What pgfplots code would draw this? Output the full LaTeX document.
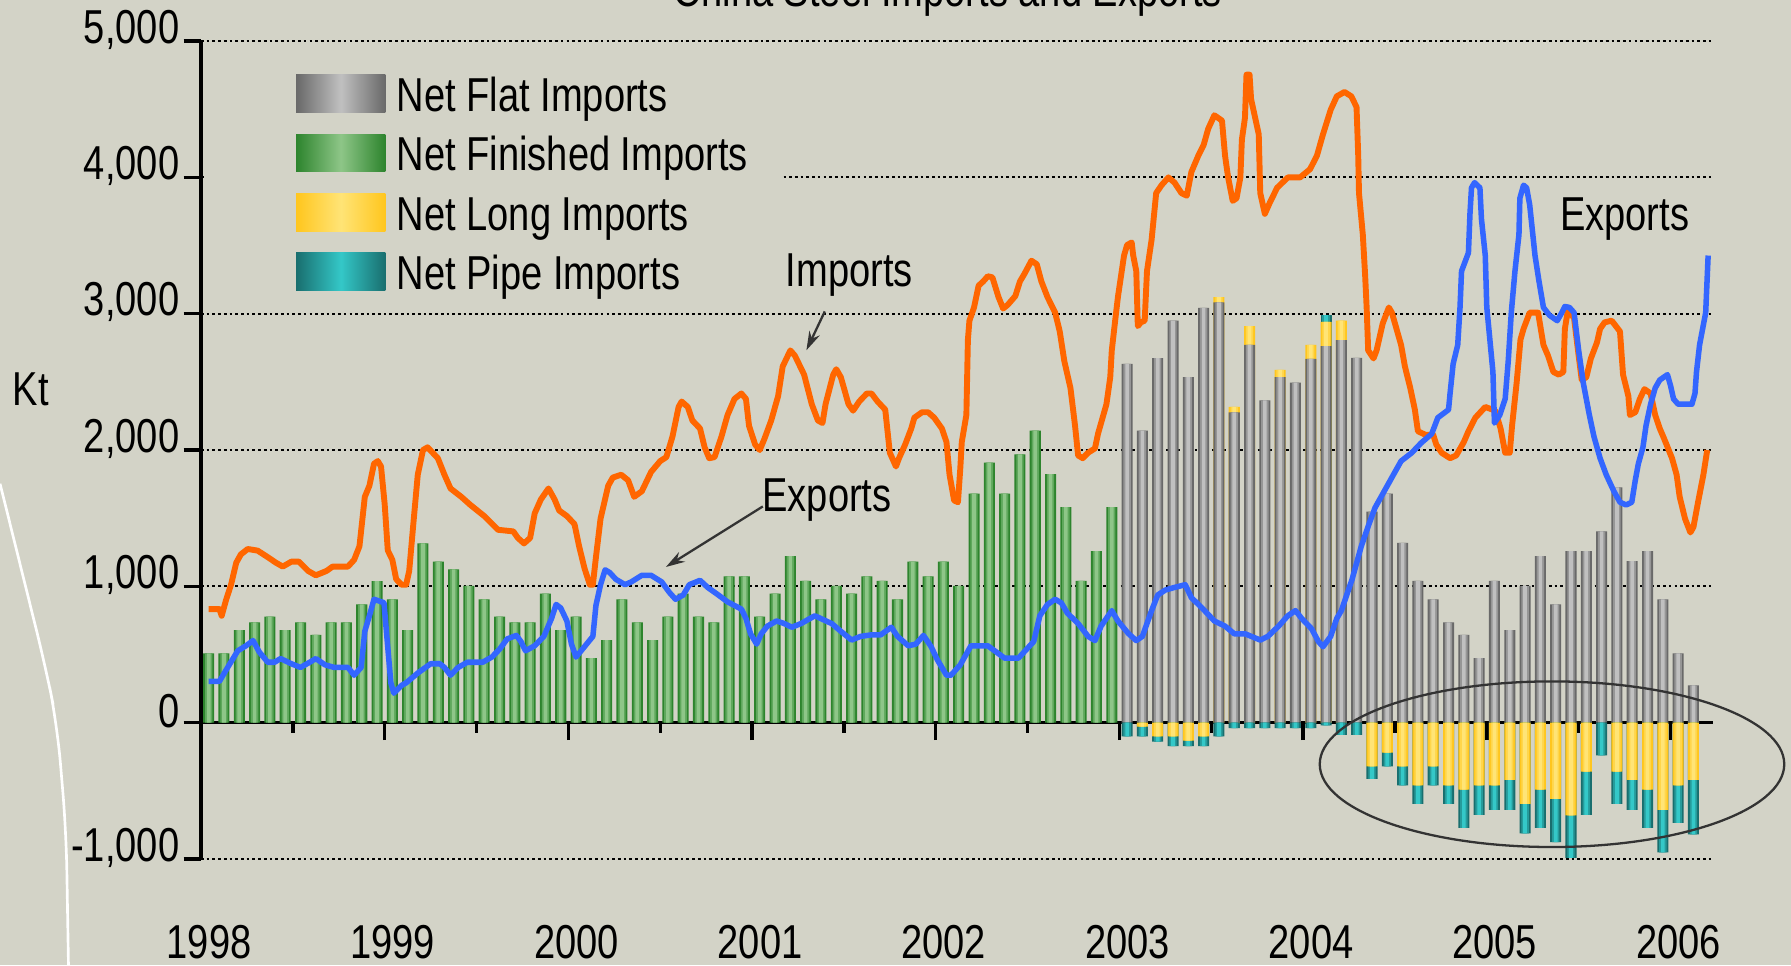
\documentclass[border=0pt]{standalone}
\usepackage{fontspec}
\setmainfont{Liberation Sans}[FakeStretch=0.8]
\usepackage{pgfplots}
\usepackage{pgfplotstable}
\pgfplotsset{compat=1.18}
\usetikzlibrary{arrows.meta}
\definecolor{bgc}{RGB}{211,211,199}
\definecolor{orangec}{RGB}{255,102,0}
\definecolor{bluec}{RGB}{51,102,255}
\definecolor{grayd}{RGB}{105,105,105}
\definecolor{graym}{RGB}{150,150,150}
\definecolor{grayl}{RGB}{192,192,192}
\definecolor{greend}{RGB}{45,132,45}
\definecolor{greenm}{RGB}{95,168,92}
\definecolor{greenl}{RGB}{142,198,136}
\definecolor{yeld}{RGB}{255,198,30}
\definecolor{yelm}{RGB}{255,214,75}
\definecolor{yell}{RGB}{255,228,118}
\definecolor{teald}{RGB}{25,110,110}
\definecolor{tealm}{RGB}{38,155,155}
\definecolor{teall}{RGB}{52,200,200}
\newcommand{\fs}{\fontsize{12.5}{14}\selectfont}
\pgfplotsset{
  barbase/.style={ybar, bar shift=0pt, draw=none, forget plot},
}
\newcommand{\layered}[4]{%
  \addplot[barbase, fill=#2, bar width=0.72] table {#1};
  \addplot[barbase, fill=#3, bar width=0.48] table {#1};
  \addplot[barbase, fill=#4, bar width=0.24] table {#1};
}
% Net Finished (positive), 1998-2002
\pgfplotstableread{
x y
0 508
1 508
2 678
3 735
4 777
5 678
6 735
7 644
8 735
9 735
10 867
11 1038
12 905
13 678
14 1315
15 1181
16 1125
17 1004
18 905
19 777
20 735
21 735
22 947
23 678
24 777
25 473
26 606
27 905
28 735
29 606
30 777
31 947
32 777
33 735
34 1073
35 1073
36 777
37 947
38 1222
39 1040
40 905
41 1004
42 947
43 1073
44 1040
45 905
46 1181
47 1073
48 1181
49 1004
50 1681
51 1907
52 1681
53 1968
54 2142
55 1823
56 1581
57 1040
58 1258
59 1581
}\finished
% Net Flat (positive), 2003-2006
\pgfplotstableread{
x y
60 2632
61 2142
62 2675
63 2949
64 2534
65 3043
66 3084
67 2277
68 2771
69 2364
70 2534
71 2494
72 2668
73 2763
74 2806
75 2676
76 1548
77 1681
78 1319
79 1040
80 905
81 735
82 644
83 473
84 1040
85 678
86 1004
87 1222
88 867
89 1258
90 1258
91 1403
92 1726
93 1185
94 1258
95 905
96 508
97 273
}\flat
% flat + positive long (top of the yellow caps)
\pgfplotstableread{
x y
66 3122
67 2316
68 2909
70 2589
72 2771
73 2941
74 2949
}\longpos
% flat + long + positive pipe
\pgfplotstableread{
x y
73 2988
}\pipepos
% negative long + pipe (bottom of the teal parts)
\pgfplotstableread{
x y
60 -100
61 -100
62 -140
63 -172
64 -172
65 -172
66 -100
67 -40
68 -40
69 -40
70 -40
71 -40
72 -40
73 -20
74 -90
75 -90
76 -412
77 -320
78 -460
79 -596
80 -460
81 -596
82 -772
83 -676
84 -640
85 -640
86 -812
87 -772
88 -876
89 -992
90 -676
91 -240
92 -596
93 -640
94 -772
95 -952
96 -736
97 -820
}\pipeneg
% negative long
\pgfplotstableread{
x y
61 -30
62 -100
63 -100
64 -132
65 -100
76 -320
77 -220
78 -320
79 -460
80 -320
81 -460
82 -492
83 -460
84 -460
85 -420
86 -596
87 -492
88 -560
89 -680
90 -360
92 -360
93 -420
94 -492
95 -640
96 -460
97 -420
}\longneg
\begin{document}
\begin{tikzpicture}
\fill[bgc] (-52.8pt,-27.9pt) rectangle (417.6pt,225.6pt);
\begin{axis}[
  at={(0pt,0pt)}, anchor=south west,
  scale only axis, width=397.2pt, height=214.8pt,
  xmin=-0.5, xmax=98.3, ymin=-1000, ymax=5000,
  enlargelimits=false, clip=false,
  axis y line=left, axis x line=middle,
  axis line style={-, line width=0.9pt, black},
  hide obscured x ticks=false, hide obscured y ticks=false,
  tick align=outside,
  major tick length=4.6pt, minor tick length=2.6pt,
  tick style={line width=0.9pt, black},
  xtick={-0.5,11.5,23.5,35.5,47.5,59.5,71.5,83.5,95.5},
  xticklabels={1998,1999,2000,2001,2002,2003,2004,2005,2006},
  minor xtick={5.5,17.5,29.5,41.5,53.5,65.5,77.5,89.5},
  ytick={-1000,0,1000,2000,3000,4000,5000},
  ymajorgrids,
  grid style={black, line width=0.5pt, dash pattern=on 0.7pt off 0.8pt},
  /pgf/number format/assume math mode=true,
  /pgf/number format/1000 sep={,},
  tick label style={font=\fs},
  xticklabel style={anchor=north, inner sep=0pt, yshift=-48.4pt, xshift=2.1pt},
  yticklabel style={yshift=3pt, xshift=2.4pt},
  legend style={at={(axis cs:-0.35,4815)}, anchor=north west, fill=bgc, draw=none,
    font=\fs, inner xsep=9pt, inner ysep=2pt, row sep=3.3pt, column sep=3pt,
    nodes={inner sep=0pt, text height=9pt, text depth=2.7pt}},
  legend cell align=left,
  legend image code/.code={\path (-15pt,0pt); \path[draw=none,#1] (0pt,-3.45pt) rectangle (23.4pt,6.45pt);},
]
% positive long / pipe caps above flat, then flat, then finished
\layered{\pipepos}{teald}{tealm}{teall}
\layered{\longpos}{yeld}{yelm}{yell}
\layered{\flat}{grayd}{graym}{grayl}
\layered{\finished}{greend}{greenm}{greenl}
% negative: pipe (total), then long on top
\layered{\pipeneg}{teald}{tealm}{teall}
\layered{\longneg}{yeld}{yelm}{yell}
% imports
\addplot[orangec, line width=1.55pt, no markers, line join=round, forget plot] coordinates {
(0,833) (0.7,833) (0.85,784) (1.13,898) (1.46,1012) (1.8,1173) (2.1,1234) (2.55,1274) (3.2,1262) (3.86,1214)
(4.4,1173) (4.84,1145) (5.4,1181) (5.9,1181) (6.5,1113) (7.0,1081) (7.7,1113) (8.1,1145) (9.1,1145) (9.5,1194)
(9.85,1294) (10.2,1657) (10.5,1738) (10.8,1899) (11.05,1919) (11.26,1879) (11.5,1600) (11.7,1264) (12.0,1194) (12.25,1052)
(12.6,1012) (12.9,1012) (13.1,1113) (13.4,1496) (13.66,1819) (14.0,2000) (14.3,2020) (14.97,1940) (15.4,1819) (15.8,1718)
(16.5,1657) (17.1,1597) (18.0,1516) (18.9,1415) (19.9,1403) (20.2,1355) (20.6,1315) (21.0,1355) (21.3,1536) (21.7,1637)
(22.2,1718) (22.6,1637) (22.9,1556) (23.4,1516) (23.9,1456) (24.2,1294) (24.55,1133) (24.9,1012) (25.1,1012) (25.3,1214)
(25.6,1496) (26.1,1738) (26.4,1798) (26.95,1819) (27.4,1778) (27.8,1657) (28.3,1698) (28.9,1839) (29.5,1919) (29.9,1948)
(30.3,2099) (30.7,2316) (30.9,2356) (31.3,2316) (31.6,2217) (32.1,2158) (32.4,2020) (32.7,1940) (33.05,1948) (33.5,2099)
(33.9,2257) (34.35,2375) (34.8,2415) (35.1,2375) (35.3,2178) (35.7,2040) (36.0,2000) (36.3,2080) (36.75,2217) (37.2,2395)
(37.5,2613) (38.0,2731) (38.3,2692) (38.9,2553) (39.4,2336) (39.8,2217) (40.1,2198) (40.3,2336) (40.8,2553) (41.0,2593)
(41.3,2534) (41.8,2336) (42.1,2289) (42.5,2356) (43.0,2415) (43.3,2415) (43.7,2356) (44.2,2296) (44.5,1980) (44.9,1879)
(45.1,1940) (45.5,2040) (45.9,2158) (46.1,2237) (46.6,2277) (47.0,2277) (47.4,2237) (47.9,2158) (48.2,2059) (48.4,1819)
(48.7,1630) (48.95,1617) (49.1,1859) (49.2,2059) (49.5,2257) (49.6,2810) (49.7,2949) (50.0,3046) (50.3,3206) (50.6,3237)
(50.9,3275) (51.2,3267) (51.6,3122) (51.9,3038) (52.2,3065) (52.7,3130) (53.0,3237) (53.3,3294) (53.75,3389) (54.1,3363)
(54.4,3237) (54.8,3122) (55.3,3008) (55.6,2870) (55.9,2652) (56.3,2455) (56.6,2178) (56.8,1960) (57.1,1940) (57.45,1980)
(57.9,2012) (58.1,2119) (58.65,2336) (58.9,2534) (59.0,2731) (59.2,2929) (59.4,3122) (59.8,3427) (60.0,3504) (60.3,3523)
(60.4,3427) (60.6,3313) (60.7,2909) (60.9,2937) (61.15,2949) (61.3,3313) (61.6,3542) (61.9,3885) (62.25,3943) (62.7,4000)
(63.1,3962) (63.55,3885) (63.9,3866) (64.2,4040) (64.65,4159) (65.0,4238) (65.3,4357) (65.7,4456) (66.2,4417) (66.4,4159)
(66.6,4000) (66.9,3828) (67.15,3847) (67.4,4000) (67.5,4278) (67.7,4437) (67.8,4754) (68.0,4754) (68.1,4575) (68.6,4317)
(68.7,3885) (69.0,3733) (69.3,3809) (69.8,3924) (70.5,4000) (71.3,4000) (71.95,4060) (72.4,4159) (72.8,4317) (73.3,4496)
(73.7,4595) (74.2,4627) (74.65,4595) (74.99,4516) (75.1,4159) (75.15,3885) (75.4,3580) (75.55,3285) (75.65,3046) (75.75,2731)
(76.1,2672) (76.3,2731) (76.7,2929) (77.1,3046) (77.3,3008) (77.6,2889) (77.9,2771) (78.15,2613) (78.5,2455) (78.8,2296)
(79.0,2138) (79.5,2111) (80.0,2111) (80.2,2040) (80.55,1980) (81.1,1940) (81.5,1960) (82.0,2059) (82.3,2138) (82.75,2237)
(83.4,2316) (84.05,2289) (84.4,2158) (84.7,1980) (85.0,1980) (85.15,2178) (85.45,2494) (85.7,2810) (85.9,2889) (86.3,3008)
(86.85,3008) (87.2,2771) (87.5,2692) (87.85,2573) (88.2,2553) (88.5,2573) (88.6,2889) (88.8,3027) (89.2,2968) (89.5,2692)
(89.7,2514) (90.0,2534) (90.3,2672) (90.7,2790) (90.9,2889) (91.2,2937) (91.66,2949) (92.2,2870) (92.4,2553) (92.75,2395)
(92.85,2257) (93.2,2277) (93.5,2375) (93.8,2447) (94.2,2415) (94.5,2257) (94.8,2158) (95.1,2079) (95.6,1940) (95.9,1819)
(96.1,1657) (96.45,1496) (96.8,1395) (97.0,1435) (97.3,1617) (97.65,1819) (97.9,2000)};
% exports
\addplot[bluec, line width=1.45pt, no markers, line join=round, forget plot] coordinates {
(0,303) (0.7,303) (1.24,405) (1.9,527) (2.44,564) (2.9,602) (3.3,519) (3.86,443) (4.3,443) (4.7,470)
(5.4,432) (6.0,405) (6.6,443) (7.0,470) (7.6,424) (8.2,405) (9.1,405) (9.5,348) (9.96,405) (10.2,670)
(10.5,784) (10.8,905) (11.45,880) (11.9,292) (12.1,216) (12.6,273) (12.9,292) (13.7,367) (14.5,432) (15.1,432)
(15.4,405) (15.8,348) (16.3,405) (16.9,443) (17.9,443) (18.5,481) (19.0,538) (19.5,614) (20.1,640) (20.4,595)
(20.7,527) (21.3,564) (21.9,633) (22.4,765) (22.7,867) (23.0,841) (23.4,746) (23.7,576) (24.0,481) (24.55,557)
(25.1,633) (25.3,860) (25.6,1012) (25.9,1121) (26.2,1101) (26.6,1052) (27.2,1012) (27.6,1032) (28.3,1081) (28.9,1081)
(29.6,1032) (30.1,955) (30.5,905) (31.0,936) (31.4,1012) (32.1,1044) (32.6,992) (33.3,936) (33.9,886) (34.8,833)
(35.1,765) (35.4,652) (35.8,576) (36.1,652) (36.5,708) (37.1,746) (37.6,727) (38.1,700) (38.7,727) (39.6,784)
(40.1,758) (40.7,727) (41.3,670) (42.0,606) (42.6,633) (43.3,644) (43.9,644) (44.6,700) (45.0,633) (45.7,564)
(46.2,576) (46.7,640) (47.2,557) (47.6,462) (48.2,348) (48.5,348) (49.1,424) (49.8,564) (50.9,564) (52.0,473)
(52.9,473) (53.9,595) (54.3,784) (54.8,867) (55.3,905) (55.7,879) (56.1,803) (56.8,727) (57.45,633) (57.9,602)
(58.3,708) (59.0,822) (59.4,746) (60.1,652) (60.6,602) (61.0,633) (61.6,822) (62.0,936) (62.5,973) (63.1,992)
(63.8,1012) (64.2,917) (64.9,841) (65.7,746) (66.4,708) (67.0,652) (67.7,652) (68.7,606) (69.2,633) (69.9,708)
(70.5,784) (71.0,822) (71.4,765) (72.05,689) (72.5,595) (72.8,557) (73.3,633) (73.7,765) (74.0,822) (74.7,1052)
(75.3,1294) (75.8,1456) (76.2,1577) (76.8,1698) (77.5,1839) (77.9,1919) (78.6,1980) (79.2,2051) (79.9,2119) (80.1,2178)
(80.3,2237) (81.0,2296) (81.1,2415) (81.3,2632) (81.6,2771) (81.75,3046) (81.85,3313) (82.3,3447) (82.4,3733) (82.5,3924)
(82.7,3962) (83.05,3924) (83.15,3695) (83.4,3427) (83.5,3046) (83.7,2810) (83.9,2573) (84.0,2198) (84.35,2257) (84.7,2375)
(84.9,2652) (85.1,3008) (85.34,3313) (85.6,3580) (85.66,3847) (85.9,3943) (86.1,3924) (86.3,3800) (86.65,3427) (86.9,3245)
(87.2,3046) (87.6,2988) (88.1,2949) (88.4,3008) (88.6,3053) (88.9,3046) (89.2,3008) (89.5,2731) (89.8,2494) (90.2,2257)
(90.5,2099) (90.9,1940) (91.3,1819) (91.8,1698) (92.2,1617) (92.6,1597) (92.97,1617) (93.2,1778) (93.4,1899) (93.7,2020)
(93.9,2178) (94.2,2336) (94.5,2455) (94.8,2514) (95.3,2553) (95.5,2474) (95.7,2375) (96.0,2336) (96.9,2336) (97.1,2415)
(97.2,2573) (97.4,2771) (97.8,3008) (97.96,3427)};
% legend
\addlegendimage{left color=grayd, right color=grayd, middle color=grayl}
\addlegendentry{Net Flat Imports}
\addlegendimage{left color=greend, right color=greend, middle color=greenl}
\addlegendentry{Net Finished Imports}
\addlegendimage{left color=yeld, right color=yeld, middle color=yell}
\addlegendentry{Net Long Imports}
\addlegendimage{left color=teald, right color=teald, middle color=teall}
\addlegendentry{Net Pipe Imports}
% annotations
\node[font=\fs, anchor=base] at (axis cs:48.3,5251) {China Steel Imports and Exports};
\node[font=\fs] at (axis cs:-11.62,2448) {Kt};
\node[font=\fs] at (axis cs:41.86,3285) {Imports};
\draw[-{Stealth[length=5pt,width=3pt]}, line width=0.6pt, black!80] (axis cs:40.25,3017) -- (axis cs:39.05,2732);
\node[font=\fs] at (axis cs:40.4,1636) {Exports};
\draw[-{Stealth[length=5pt,width=3pt]}, line width=0.6pt, black!80] (axis cs:36.2,1586) -- (axis cs:29.87,1142);
\node[font=\fs] at (axis cs:92.5,3695) {Exports};
\draw[line width=0.6pt, black!80] (axis cs:87.76,-305) ellipse [x radius=61pt, y radius=21.75pt];
\draw[white, line width=0.7pt, rounded corners=10pt] (axis cs:-13.63,1753) -- (axis cs:-10.65,406) -- (axis cs:-9.90,-13) -- (axis cs:-9.31,-799) -- (axis cs:-9.16,-1778);
\end{axis}
\pgfresetboundingbox
\path[use as bounding box] (-52.8pt,-27.9pt) rectangle (417.6pt,225.6pt);
\end{tikzpicture}
\end{document}
